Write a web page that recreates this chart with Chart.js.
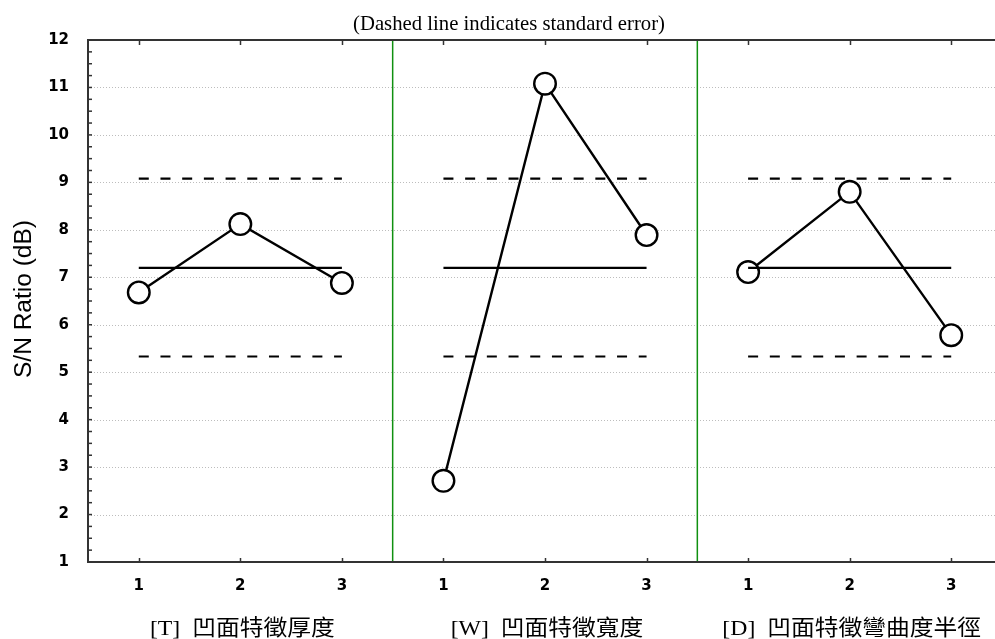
<!DOCTYPE html>
<html>
<head>
<meta charset="utf-8">
<script src="https://cdn.jsdelivr.net/npm/chart.js@4.4.1/dist/chart.umd.min.js"></script>
<style>
html,body{margin:0;padding:0;background:#fff;overflow:hidden;}
#wrap{width:995px;height:639px;overflow:hidden;position:relative;}
canvas{display:block;}
</style>
</head>
<body>
<div id="wrap"><canvas id="c" width="1002" height="639"></canvas></div>
<script>
// ---- data ----
const factorLabels = ['[T]  凹面特徵厚度', '[W]  凹面特徵寬度', '[D]  凹面特徵彎曲度半徑'];
const levelLabels = ['1', '2', '3'];
const snT = [6.68, 8.12, 6.88];
const snW = [2.71, 11.08, 7.89];
const snD = [7.11, 8.80, 5.78];
const grandMean = 7.2;
const seUpper = 9.08;
const seLower = 5.33;
const yTickValues = [1, 2, 3, 4, 5, 6, 7, 8, 9, 10, 11, 12];
const titleText = '(Dashed line indicates standard error)';
const yTitleText = 'S/N Ratio (dB)';

const series = [snT, snW, snD];
const levelPos = (p, i) => p * levelLabels.length + i + 0.5;
const xTickValues = [];
series.forEach((s, p) => s.forEach((v, i) => xTickValues.push(levelPos(p, i))));

const datasets = [];
series.forEach((vals, p) => {
  datasets.push({
    data: vals.map((v, i) => ({x: levelPos(p, i), y: v})),
    showLine: true, borderColor: '#000', borderWidth: 2.4,
    pointRadius: 10.8, pointBackgroundColor: '#fff', pointBorderColor: '#000', pointBorderWidth: 2.4,
    order: 2
  });
  const x0 = levelPos(p, 0), x1 = levelPos(p, vals.length - 1);
  datasets.push({data: [{x: x0, y: grandMean}, {x: x1, y: grandMean}], showLine: true,
    borderColor: '#000', borderWidth: 2.2, pointRadius: 0, order: 0});
  [seUpper, seLower].forEach(v => datasets.push({data: [{x: x0, y: v}, {x: x1, y: v}], showLine: true,
    borderColor: '#000', borderWidth: 2.2, borderDash: [10, 11.7], pointRadius: 0, order: 0}));
});

function fitText(ctx, text, x, y, scaleX) {
  ctx.save();
  ctx.translate(x, y);
  ctx.scale(scaleX, 1);
  ctx.fillText(text, 0, 0);
  ctx.restore();
}

const decor = {
  id: 'decor',
  beforeDatasetsDraw(chart) {
    const {ctx, chartArea: a, scales: {x, y}} = chart;
    ctx.save();
    ctx.strokeStyle = '#bdbdbd'; ctx.lineWidth = 1; ctx.setLineDash([1, 2]);
    yTickValues.forEach(v => {
      if (v === y.min || v === y.max) return;
      const py = Math.round(y.getPixelForValue(v)) + 0.5;
      ctx.beginPath(); ctx.moveTo(a.left, py); ctx.lineTo(a.right, py); ctx.stroke();
    });
    ctx.setLineDash([]);
    ctx.strokeStyle = '#109010'; ctx.lineWidth = 1.5;
    for (let p = 1; p < series.length; p++) {
      const px = x.getPixelForValue(p * levelLabels.length);
      ctx.beginPath(); ctx.moveTo(px, a.top); ctx.lineTo(px, a.bottom); ctx.stroke();
    }
    ctx.restore();
  },
  afterDatasetsDraw(chart) {
    const {ctx, chartArea: a, scales: {x, y}} = chart;
    ctx.save();
    ctx.strokeStyle = '#333'; ctx.lineWidth = 2;
    ctx.beginPath();
    ctx.moveTo(a.right + 2, a.top); ctx.lineTo(a.left, a.top); ctx.lineTo(a.left, a.bottom); ctx.lineTo(a.right + 2, a.bottom);
    ctx.stroke();
    ctx.lineWidth = 1.5;
    for (let v = y.min; v <= y.max + 1e-9; v += 0.25) {
      const py = y.getPixelForValue(v);
      ctx.beginPath(); ctx.moveTo(a.left, py); ctx.lineTo(a.left + 4, py); ctx.stroke();
    }
    xTickValues.forEach(v => {
      const px = Math.round(x.getPixelForValue(v)) + 0.5;
      ctx.beginPath(); ctx.moveTo(px, a.top); ctx.lineTo(px, a.top + 5); ctx.stroke();
      ctx.beginPath(); ctx.moveTo(px, a.bottom); ctx.lineTo(px, a.bottom - 4); ctx.stroke();
    });
    ctx.fillStyle = '#000';
    ctx.font = '21px "Liberation Serif", "Times New Roman", serif';
    ctx.textAlign = 'center'; ctx.textBaseline = 'alphabetic';
    let w = ctx.measureText(titleText).width;
    fitText(ctx, titleText, 509, 30, 312 / w);
    ctx.font = '23px "Liberation Sans", Arial, sans-serif';
    w = ctx.measureText(yTitleText).width;
    ctx.save();
    ctx.translate(31, 299);
    ctx.rotate(-Math.PI / 2);
    ctx.scale(158 / w, 1);
    ctx.fillText(yTitleText, 0, 0);
    ctx.restore();
    ctx.font = '22px "Liberation Serif", "Noto Sans CJK TC", serif';
    factorLabels.forEach((t, p) => {
      const cx = x.getPixelForValue(levelPos(p, 1)) + 2;
      fitText(ctx, t, cx, 635, 1.08);
    });
    ctx.restore();
  }
};

new Chart(document.getElementById('c'), {
  type: 'scatter',
  data: {datasets},
  options: {
    responsive: false, animation: false,
    layout: {autoPadding: false, padding: {top: 40, left: 0, right: 0, bottom: 0}},
    plugins: {legend: {display: false}, tooltip: {enabled: false}, title: {display: false}},
    scales: {
      x: {
        type: 'linear', min: 0, max: series.length * levelLabels.length,
        afterBuildTicks: s => { s.ticks = xTickValues.map(v => ({value: v})); },
        afterFit: s => { s.height = 77; },
        grid: {display: false}, border: {display: false},
        ticks: {
          autoSkip: false, maxRotation: 0, padding: 7, color: '#000',
          font: {family: '"DejaVu Sans", Verdana, sans-serif', size: 15, weight: 'bold'},
          callback: v => levelLabels[Math.round(v - 0.5) % levelLabels.length]
        }
      },
      y: {
        min: yTickValues[0], max: yTickValues[yTickValues.length - 1],
        afterBuildTicks: s => { s.ticks = yTickValues.map(v => ({value: v})); },
        afterFit: s => { s.width = 88; },
        grid: {display: false}, border: {display: false},
        ticks: {
          padding: 11, color: '#000',
          font: {family: '"DejaVu Sans", Verdana, sans-serif', size: 15, weight: 'bold'}
        }
      }
    }
  },
  plugins: [decor]
});
</script>
</body>
</html>
